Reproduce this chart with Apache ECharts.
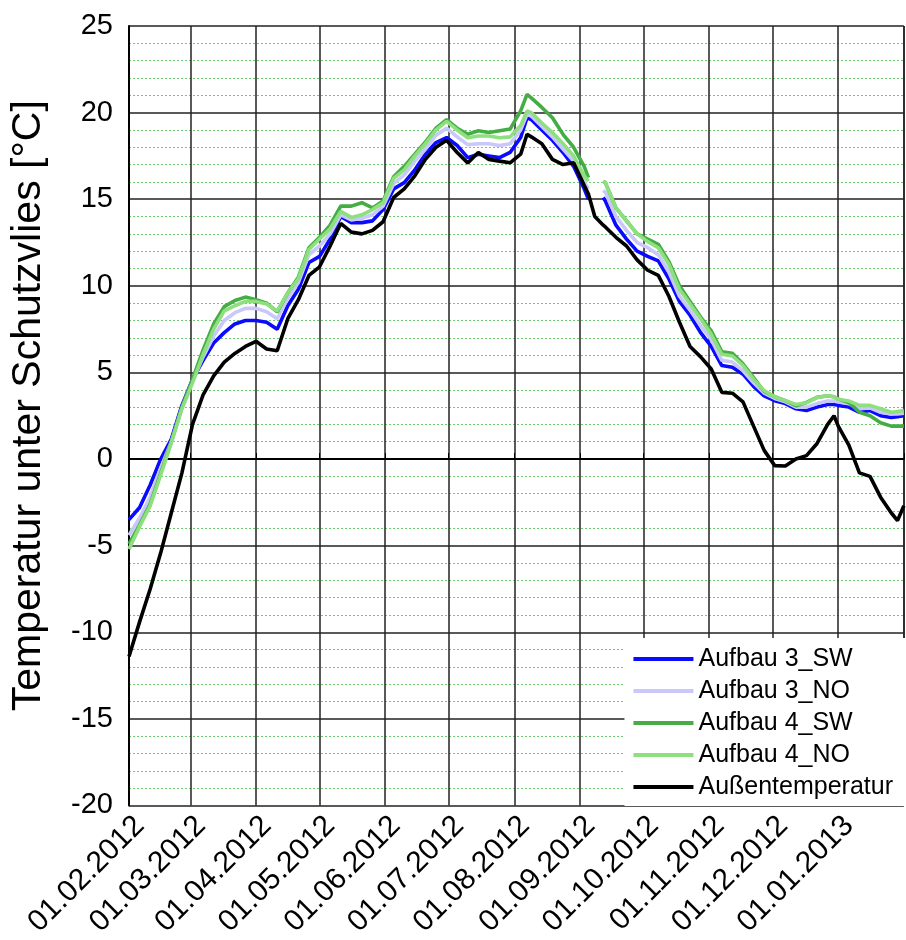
<!DOCTYPE html>
<html>
<head>
<meta charset="utf-8">
<script src="https://cdn.jsdelivr.net/npm/echarts@6/dist/echarts.min.js"></script>
<style>
html,body{margin:0;padding:0;background:#fff;}
#chart{width:906px;height:940px;}
</style>
</head>
<body>
<div id="chart"></div>
<script>
const dates = [
  '2012-02-01','2012-02-06','2012-02-11','2012-02-16','2012-02-21','2012-02-26',
  '2012-03-02','2012-03-07','2012-03-12','2012-03-17','2012-03-22','2012-03-27',
  '2012-04-01','2012-04-06','2012-04-11','2012-04-16','2012-04-21','2012-04-26',
  '2012-05-01','2012-05-06','2012-05-11','2012-05-16','2012-05-21','2012-05-26','2012-05-31',
  '2012-06-05','2012-06-10','2012-06-15','2012-06-20','2012-06-25','2012-06-30',
  '2012-07-05','2012-07-10','2012-07-15','2012-07-20','2012-07-25','2012-07-30',
  '2012-08-04','2012-08-07','2012-08-09','2012-08-14','2012-08-19','2012-08-24','2012-08-29',
  '2012-09-03','2012-09-05','2012-09-08','2012-09-12','2012-09-13','2012-09-18','2012-09-23','2012-09-28',
  '2012-10-03','2012-10-08','2012-10-13','2012-10-18','2012-10-23','2012-10-28',
  '2012-11-02','2012-11-07','2012-11-12','2012-11-17','2012-11-22','2012-11-27',
  '2012-12-02','2012-12-07','2012-12-12','2012-12-17','2012-12-22','2012-12-27','2012-12-30',
  '2013-01-01','2013-01-06','2013-01-11','2013-01-16','2013-01-21','2013-01-26','2013-01-29',
  '2013-02-01'
];

const aufbau3SW = [
  -3.5,-2.8,-1.5,0.0,1.15,3.1,
  4.6,5.7,6.7,7.3,7.8,8.0,
  8.0,7.9,7.5,8.85,9.8,11.35,
  11.7,12.7,14.0,13.65,13.65,13.75,14.4,
  15.6,15.96,16.7,17.6,18.27,18.56,
  18.1,17.4,17.6,17.5,17.4,17.7,
  18.56,19.7,19.6,19.0,18.4,17.7,16.9,
  15.6,15.0,null,15.1,14.9,13.5,12.7,12.0,
  11.7,11.44,10.4,9.1,8.3,7.3,
  6.5,5.4,5.3,4.9,4.2,3.65,
  3.37,3.2,2.9,2.8,3.0,3.15,3.15,
  3.1,3.0,2.7,2.8,2.5,2.4,2.45,
  2.5
];

const aufbau3NO = [
  -4.4,-3.4,-2.2,-0.5,1.0,2.95,
  4.5,5.9,7.1,8.0,8.45,8.7,
  8.7,8.5,8.1,9.3,10.2,11.8,
  12.3,13.0,14.1,13.8,13.9,14.1,14.6,
  15.9,16.4,17.2,17.9,18.7,19.1,
  18.6,18.15,18.2,18.2,18.1,18.2,
  19.0,19.9,19.8,19.2,18.6,17.9,17.2,
  16.0,15.6,null,15.5,15.4,14.0,13.2,12.5,
  12.2,11.8,10.8,9.4,8.6,7.7,
  6.9,5.7,5.6,5.1,4.4,3.8,
  3.5,3.3,3.0,3.0,3.2,3.35,3.35,
  3.3,3.2,2.9,2.95,2.7,2.6,2.6,
  2.65
];

const aufbau4SW = [
  -4.9,-3.8,-2.6,-0.8,1.0,3.0,
  4.6,6.3,7.8,8.8,9.15,9.35,
  9.2,9.0,8.5,9.6,10.5,12.2,
  12.8,13.5,14.6,14.6,14.8,14.5,14.9,
  16.3,16.9,17.6,18.3,19.1,19.6,
  19.1,18.75,18.95,18.85,18.95,19.05,
  20.1,21.05,20.85,20.3,19.7,18.75,18.0,
  16.9,16.25,null,16.05,15.95,14.5,13.75,13.0,
  12.7,12.4,11.4,10.0,9.1,8.2,
  7.4,6.2,6.1,5.5,4.7,3.9,
  3.6,3.37,3.08,3.27,3.56,3.65,3.6,
  3.46,3.27,2.7,2.5,2.1,1.9,1.9,
  1.9
];

const aufbau4NO = [
  -5.2,-3.9,-2.7,-0.9,0.95,2.9,
  4.4,6.05,7.5,8.55,8.85,9.1,
  9.1,8.95,8.55,9.6,10.4,12.1,
  12.7,13.3,14.3,13.95,14.1,14.4,14.8,
  16.2,16.7,17.5,18.2,19.0,19.5,
  19.0,18.55,18.65,18.65,18.55,18.6,
  19.25,20.1,20.0,19.4,18.85,18.2,17.5,
  16.35,16.05,null,16.05,15.95,14.5,13.75,13.0,
  12.55,12.2,11.25,9.8,8.95,8.1,
  7.2,6.05,5.95,5.4,4.6,3.95,
  3.6,3.37,3.15,3.25,3.55,3.65,3.6,
  3.45,3.35,3.1,3.1,2.9,2.7,2.75,
  2.8
];

const aussen = [
  -11.4,-9.4,-7.5,-5.4,-3.1,-0.8,
  2.0,3.7,4.8,5.6,6.1,6.5,
  6.8,6.35,6.25,8.1,9.2,10.6,
  11.1,12.3,13.6,13.1,13.0,13.2,13.7,
  15.1,15.6,16.35,17.3,18.0,18.4,
  17.7,17.1,17.7,17.3,17.2,17.1,
  17.6,18.75,18.6,18.2,17.3,17.0,17.1,
  15.8,15.3,14.0,13.5,13.4,12.8,12.3,11.5,
  10.9,10.6,9.4,7.9,6.5,5.9,
  5.2,3.85,3.8,3.3,1.9,0.5,
  -0.38,-0.4,0.0,0.2,0.9,2.0,2.5,
  1.9,0.8,-0.8,-1.0,-2.2,-3.1,-3.55,
  -2.7
];

const seriesNames = ['Aufbau 3_SW','Aufbau 3_NO','Aufbau 4_SW','Aufbau 4_NO','Außentemperatur'];
const seriesColors = ['#0a0aff','#c8c8fa','#46ad46','#8ee07e','#000000'];
const seriesValues = [aufbau3SW, aufbau3NO, aufbau4SW, aufbau4NO, aussen];

const FONT = 'Liberation Sans, Arial, sans-serif';
const chart = echarts.init(document.getElementById('chart'), null, {renderer:'canvas'});

function pad(n){return (n<10?'0':'')+n;}

const option = {
  animation:false,
  backgroundColor:'#ffffff',
  grid:{left:128, right:1, top:26, bottom:132, containLabel:false},
  legend:{
    orient:'vertical',
    right:1, bottom:134,
    backgroundColor:'#ffffff',
    padding:[8,12,6,9],
    icon:'rect',
    itemWidth:60, itemHeight:4, itemGap:6,
    textStyle:{fontFamily:FONT, fontSize:25, color:'#000', lineHeight:26},
    data:seriesNames
  },
  xAxis:{
    type:'time',
    min:'2012-02-01', max:'2013-02-01',
    splitNumber:12,
    axisLine:{show:true, lineStyle:{color:'#000', width:2}},
    axisTick:{show:true, inside:true, length:6, lineStyle:{color:'#000'}},
    splitLine:{show:true, lineStyle:{color:'#222', width:1.5}},
    axisLabel:{
      rotate:45, fontFamily:FONT, fontSize:30, color:'#000', margin:5,
      align:'right', verticalAlign:'top',
      formatter:function(v){const d=new Date(v); if(d.getFullYear()===2013&&d.getMonth()===1) return ''; return pad(d.getDate())+'.'+pad(d.getMonth()+1)+'.'+d.getFullYear();}
    }
  },
  yAxis:{
    type:'value', min:-20, max:25, interval:5,
    name:'Temperatur unter Schutzvlies [°C]',
    nameLocation:'middle', nameGap:80,
    nameTextStyle:{fontFamily:FONT, fontSize:41, color:'#000', padding:[0,0,0,20]},
    axisLine:{show:true, lineStyle:{color:'#000', width:2}},
    axisTick:{show:false},
    axisLabel:{fontFamily:FONT, fontSize:29, color:'#000', margin:16},
    splitLine:{show:true, lineStyle:{color:'#222', width:1.5}},
    minorTick:{show:false, splitNumber:5},
    minorSplitLine:{show:true, lineStyle:{color:'#6cc86c', width:1, type:[2,2]}}
  },
  series: seriesNames.map((n,i)=>({
    name:n, type:'line', symbol:'none', connectNulls:false,
    color:seriesColors[i],
    lineStyle:{color:seriesColors[i], width:3.6},
    data: dates.map((d,j)=>[d, seriesValues[i][j]]),
    z: 2+i
  }))
};
chart.setOption(option);
</script>
</body>
</html>
